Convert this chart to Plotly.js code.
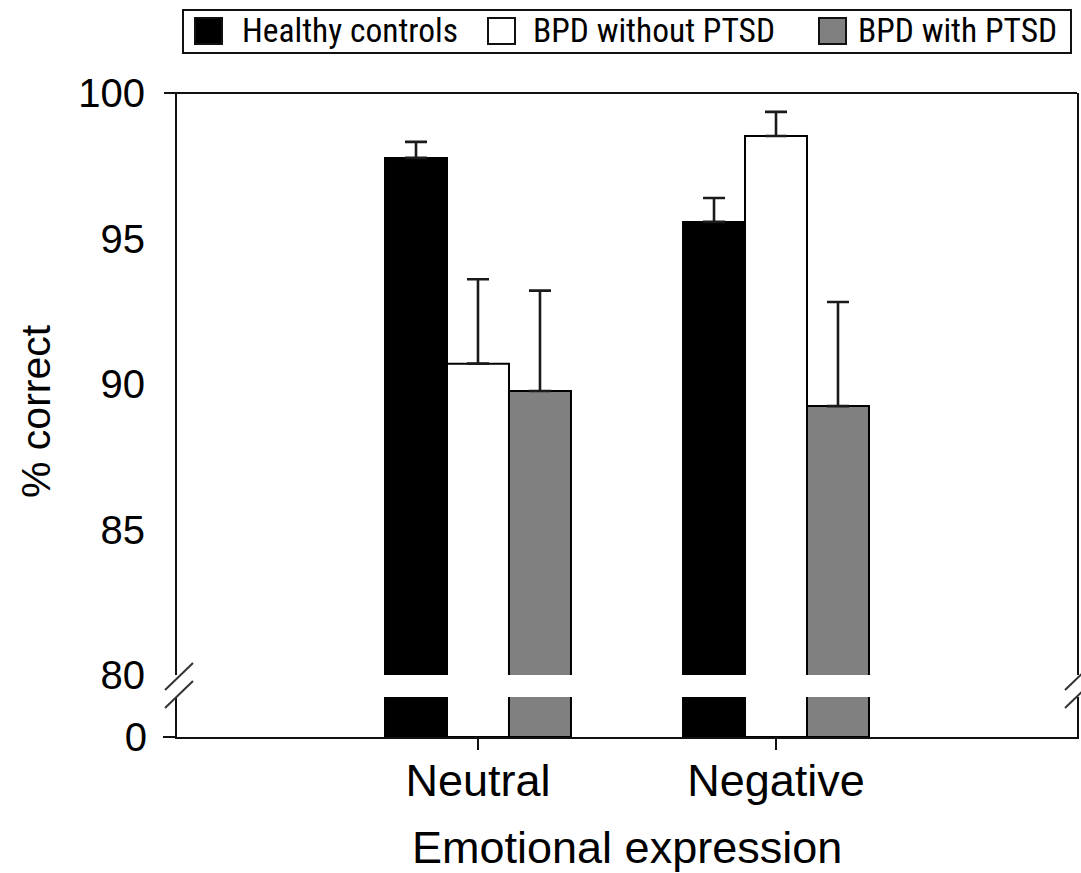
<!DOCTYPE html>
<html>
<head>
<meta charset="utf-8">
<script src="https://cdn.plot.ly/plotly-3.0.1.min.js"></script>
<style>
  html, body { margin: 0; padding: 0; background: #fff; }
  #chart { width: 1081px; height: 873px; }
</style>
</head>
<body>
<div id="chart"></div>
<script>
// Emotion recognition accuracy (% correct) by group and facial expression
const categories = ['Neutral', 'Negative'];
const groupNames = ['Healthy controls', 'BPD without PTSD', 'BPD with PTSD'];
const healthyControls = [97.77, 95.57];
const bpdWithoutPtsd = [90.7, 98.52];
const bpdWithPtsd = [89.76, 89.24];
const healthyControlsErr = [0.55, 0.82];
const bpdWithoutPtsdErr = [2.9, 0.83];
const bpdWithPtsdErr = [3.45, 3.58];
const upperTicks = [80, 85, 90, 95, 100];
const lowerTicks = [0];

const groupValues = [healthyControls, bpdWithoutPtsd, bpdWithPtsd];
const groupErrors = [healthyControlsErr, bpdWithoutPtsdErr, bpdWithPtsdErr];
const fills = ['#000000', '#ffffff', '#808080'];

const font = '"Liberation Sans", Arial, Helvetica, sans-serif';
const narrowFont = '"Liberation Sans Narrow", "Arial Narrow", "Roboto Condensed", "Liberation Sans", sans-serif';

// plot area in pixels: left 177, right 1077, top 93, bottom 737
const L = 177, R = 1077, T = 93, B = 737;
const px = v => (v - L) / (R - L);
const py = v => (B - v) / (B - T);
const xRange = [-1.01, 2.01];

const traces = [];
groupNames.forEach((name, i) => {
  // upper segment (80-100) with error bars
  traces.push({
    type: 'bar', name: name, x: categories, y: groupValues[i],
    xaxis: 'x', yaxis: 'y2', showlegend: false,
    marker: { color: fills[i], line: { color: '#000', width: 2 } },
    error_y: { type: 'data', array: groupErrors[i], arrayminus: [0, 0], symmetric: false,
               color: '#1a1a1a', thickness: 2.6, width: 11 },
    hoverinfo: 'skip'
  });
  // lower stub (0 up to the axis break)
  traces.push({
    type: 'bar', name: name, x: categories, y: groupValues[i],
    xaxis: 'x', yaxis: 'y', showlegend: false,
    marker: { color: fills[i], line: { color: '#000', width: 2 } },
    hoverinfo: 'skip'
  });
});

const shapes = [];
const annotations = [];

// top frame line, extending slightly left as a tick at 100
shapes.push({ type: 'line', xref: 'paper', yref: 'paper', x0: px(164), x1: 1, y0: 1, y1: 1,
              line: { color: '#111', width: 2 } });

// category tick marks below the x axis, placed at each category's axis position
categories.forEach((c, i) => {
  const xp = (i - xRange[0]) / (xRange[1] - xRange[0]);
  shapes.push({ type: 'line', xref: 'paper', yref: 'paper', x0: xp, x1: xp, y0: 0, y1: py(750),
                line: { color: '#111', width: 2 } });
});

// axis break marks on both sides
[L, R].forEach(ax => {
  [[690, 663], [708, 681]].forEach(([ya, yb]) => {
    shapes.push({ type: 'line', xref: 'paper', yref: 'paper',
                  x0: px(ax - 12), y0: py(ya), x1: px(ax + 16), y1: py(yb),
                  line: { color: '#333', width: 2 } });
  });
});

// legend box with swatches
shapes.push({ type: 'rect', xref: 'paper', yref: 'paper', x0: px(183), x1: px(1071),
              y0: py(53), y1: py(10), line: { color: '#111', width: 2 }, fillcolor: 'rgba(0,0,0,0)' });
const swatchX = [195, 488, 819];
const labelX = [240, 531, 856];
groupNames.forEach((name, i) => {
  shapes.push({ type: 'rect', xref: 'paper', yref: 'paper',
                x0: px(swatchX[i]), x1: px(swatchX[i] + 27), y0: py(44), y1: py(18),
                fillcolor: fills[i], line: { color: '#111', width: 2 } });
  annotations.push({ xref: 'paper', yref: 'paper', x: px(labelX[i]), y: py(31),
                     xanchor: 'left', yanchor: 'middle', showarrow: false, text: name,
                     font: { family: narrowFont, size: 33.5, color: '#000' } });
});

// y axis title
annotations.push({ xref: 'paper', yref: 'paper', x: px(36), y: py(411), xanchor: 'center', yanchor: 'middle',
                   showarrow: false, text: '% correct', textangle: -90,
                   font: { family: font, size: 41, color: '#000' } });

// x axis title
annotations.push({ xref: 'paper', yref: 'paper', x: px(627), y: py(848), xanchor: 'center', yanchor: 'middle',
                   showarrow: false, text: 'Emotional expression',
                   font: { family: font, size: 45, color: '#000' } });

const layout = {
  width: 1081, height: 873,
  margin: { l: L, r: 1081 - R, t: T, b: 873 - B, pad: 0 },
  paper_bgcolor: '#fff', plot_bgcolor: '#fff',
  font: { family: font, color: '#000' },
  barmode: 'group', bargap: 0.376, bargroupgap: 0,
  showlegend: false,
  xaxis: {
    type: 'category', range: xRange, anchor: 'y',
    showline: true, linecolor: '#111', linewidth: 2, mirror: false,
    ticks: '', showgrid: false, zeroline: false,
    tickfont: { size: 45, color: '#000' }, ticklabelstandoff: 3
  },
  yaxis: {
    domain: [0, py(697)], range: [0, 10], anchor: 'x',
    tickvals: lowerTicks, ticktext: lowerTicks.map(String),
    showline: true, linecolor: '#111', linewidth: 2, mirror: true,
    ticks: 'outside', ticklen: 12, tickwidth: 2, tickcolor: '#111',
    showgrid: false, zeroline: false,
    tickfont: { size: 40, color: '#000' }, ticklabelstandoff: 8
  },
  yaxis2: {
    domain: [py(675), 1], range: [80, 100], anchor: 'x',
    tickvals: upperTicks, ticktext: upperTicks.map(String),
    showline: true, linecolor: '#111', linewidth: 2, mirror: true,
    ticks: '', showgrid: false, zeroline: false,
    tickfont: { size: 40, color: '#000' }, ticklabelstandoff: 22
  },
  shapes: shapes,
  annotations: annotations
};

Plotly.newPlot('chart', traces, layout, { displayModeBar: false, staticPlot: true });
</script>
</body>
</html>
